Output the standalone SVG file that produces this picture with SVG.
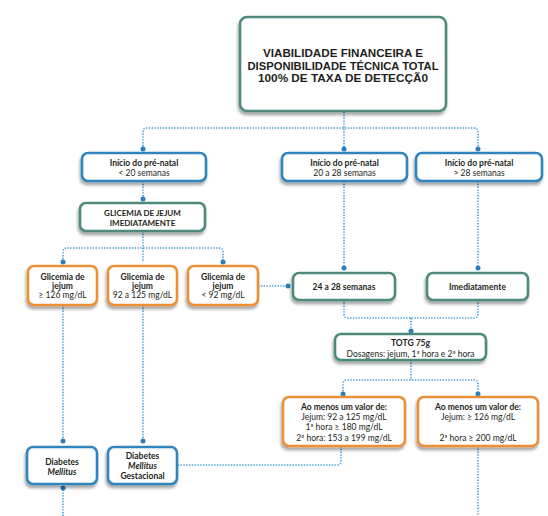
<svg xmlns="http://www.w3.org/2000/svg" width="548" height="516" viewBox="0 0 548 516">
<defs>
<filter id="sh" x="-20%" y="-20%" width="140%" height="160%">
<feDropShadow dx="-1" dy="3" stdDeviation="1.6" flood-color="#000" flood-opacity="0.35"/>
</filter>
<style>
.teal{fill:#fff;stroke:#4e8a7b;stroke-width:2.6;filter:url(#sh)}
.blue{fill:#fff;stroke:#3384bd;stroke-width:2.6;filter:url(#sh)}
.orange{fill:#fff;stroke:#ec9038;stroke-width:2.6;filter:url(#sh)}
.c{fill:none;stroke:#4a9fda;stroke-width:1.6;stroke-dasharray:1.4 1.4}
.d{fill:#2a7dbf}
text{font-family:Lato,"Open Sans","Liberation Sans",sans-serif;fill:#231f20;text-anchor:middle}
.b{font-weight:bold}
.t{font-family:"Liberation Sans",Arial,sans-serif;font-size:11px;font-weight:bold}
.s{font-size:8.5px}
</style>
</defs>
<rect width="548" height="516" fill="#fff"/>
<g id="connectors">
<path class="c" d="M344 112 V149 M143 149 V132 Q143 128 147 128 H474 Q478 128 478 132 V149"/>
<path class="c" d="M143 181 V199"/>
<path class="c" d="M143 231 V262 M63 262 V252 Q63 248 67 248 H219 Q223 248 223 252 V262"/>
<path class="c" d="M63 305 V441 M143 305 V441"/>
<path class="c" d="M258 286 H288"/>
<path class="c" d="M344 181 V268 M478 181 V268"/>
<path class="c" d="M344 300 V314 Q344 318 348 318 H474 Q478 318 478 314 V300 M411 318 V331"/>
<path class="c" d="M411 360 V380 M343 394 V384 Q343 380 347 380 H474 Q478 380 478 384 V394"/>
<path class="c" d="M341 446 V461 Q341 465 337 465 H177"/>
<path class="c" d="M478 446 V516"/>
<path class="c" d="M63 484 V516"/>
<circle class="d" cx="143" cy="149" r="2.5"/>
<circle class="d" cx="344" cy="149" r="2.5"/>
<circle class="d" cx="478" cy="149" r="2.5"/>
<circle class="d" cx="143" cy="199" r="2.5"/>
<circle class="d" cx="63" cy="262" r="2.5"/>
<circle class="d" cx="223" cy="262" r="2.5"/>
<circle class="d" cx="288" cy="286" r="2.5"/>
<circle class="d" cx="344" cy="268" r="2.5"/>
<circle class="d" cx="478" cy="268" r="2.5"/>
<circle class="d" cx="411" cy="331" r="2.5"/>
<circle class="d" cx="343" cy="394" r="2.5"/>
<circle class="d" cx="478" cy="394" r="2.5"/>
<circle class="d" cx="63" cy="441" r="2.5"/>
<circle class="d" cx="143" cy="441" r="2.5"/>
<circle class="d" cx="63" cy="488" r="2.5"/>
</g>
<g id="top">
<rect class="teal" x="240" y="17" width="206" height="94" rx="7"/>
<text class="t" x="343" y="57" textLength="160" lengthAdjust="spacingAndGlyphs">VIABILIDADE FINANCEIRA E</text>
<text class="t" x="343" y="69.6" textLength="191" lengthAdjust="spacingAndGlyphs">DISPONIBILIDADE TÉCNICA TOTAL</text>
<text class="t" x="343" y="82.2" textLength="170" lengthAdjust="spacingAndGlyphs">100% DE TAXA DE DETECÇÃ0</text>
</g>
<g id="inicio1">
<rect class="blue" x="82" y="153" width="124" height="28" rx="6"/>
<text class="s b" x="144" y="166">Início do pré-natal</text>
<text class="s" x="144" y="176">&lt; 20 semanas</text>
</g>
<g id="inicio2">
<rect class="blue" x="282" y="153" width="125" height="28" rx="6"/>
<text class="s b" x="344.5" y="166">Início do pré-natal</text>
<text class="s" x="344.5" y="176">20 a 28 semanas</text>
</g>
<g id="inicio3">
<rect class="blue" x="416" y="153" width="126" height="28" rx="6"/>
<text class="s b" x="479" y="166">Início do pré-natal</text>
<text class="s" x="479" y="176">&gt; 28 semanas</text>
</g>
<g id="glicemia">
<rect class="teal" x="80" y="203" width="125" height="28" rx="6"/>
<text class="b" x="142.5" y="216" font-size="8">GLICEMIA DE JEJUM</text>
<text class="b" x="142.5" y="226" font-size="8">IMEDIATAMENTE</text>
</g>
<g id="gj1">
<rect class="orange" x="28" y="266" width="69" height="39" rx="6"/>
<text class="s b" x="62.5" y="280">Glicemia de</text>
<text class="s b" x="62.5" y="289">jejum</text>
<text class="s" x="62.5" y="298">≥ 126 mg/dL</text>
</g>
<g id="gj2">
<rect class="orange" x="108" y="266" width="69" height="39" rx="6"/>
<text class="s b" x="142.5" y="280">Glicemia de</text>
<text class="s b" x="142.5" y="289">jejum</text>
<text class="s" x="142.5" y="298">92 a 125 mg/dL</text>
</g>
<g id="gj3">
<rect class="orange" x="188" y="266" width="70" height="39" rx="6"/>
<text class="s b" x="223" y="280">Glicemia de</text>
<text class="s b" x="223" y="289">jejum</text>
<text class="s" x="223" y="298">&lt; 92 mg/dL</text>
</g>
<g id="s2428">
<rect class="teal" x="293" y="273" width="102" height="27" rx="6"/>
<text class="s b" x="344" y="290">24 a 28 semanas</text>
</g>
<g id="imediatamente">
<rect class="teal" x="427" y="273" width="101" height="27" rx="6"/>
<text class="s b" x="477.5" y="290">Imediatamente</text>
</g>
<g id="totg">
<rect class="teal" x="335" y="334" width="151" height="26" rx="6"/>
<text class="s b" x="410.5" y="346">TOTG 75g</text>
<text class="s" x="410.5" y="357">Dosagens: jejum, 1ª hora e 2ª hora</text>
</g>
<g id="valor1">
<rect class="orange" x="283" y="397" width="122" height="49" rx="6"/>
<text class="s b" x="344" y="410">Ao menos um valor de:</text>
<text class="s" x="344" y="420">Jejum: 92 a 125 mg/dL</text>
<text class="s" x="344" y="430">1ª hora ≥ 180 mg/dL</text>
<text class="s" x="344" y="441">2ª hora: 153 a 199 mg/dL</text>
</g>
<g id="valor2">
<rect class="orange" x="418" y="397" width="120" height="49" rx="6"/>
<text class="s b" x="478" y="410">Ao menos um valor de:</text>
<text class="s" x="478" y="420">Jejum: ≥ 126 mg/dL</text>
<text class="s" x="478" y="441">2ª hora ≥ 200 mg/dL</text>
</g>
<g id="dm">
<rect class="blue" x="27" y="447" width="70" height="37" rx="6"/>
<text class="s b" x="62" y="465">Diabetes</text>
<text class="s b" x="62" y="475" font-style="italic">Mellitus</text>
</g>
<g id="dmg">
<rect class="blue" x="108" y="447" width="69" height="37" rx="6"/>
<text class="s b" x="142.5" y="459">Diabetes</text>
<text class="s b" x="142.5" y="469" font-style="italic">Mellitus</text>
<text class="s b" x="142.5" y="479">Gestacional</text>
</g>
</svg>
